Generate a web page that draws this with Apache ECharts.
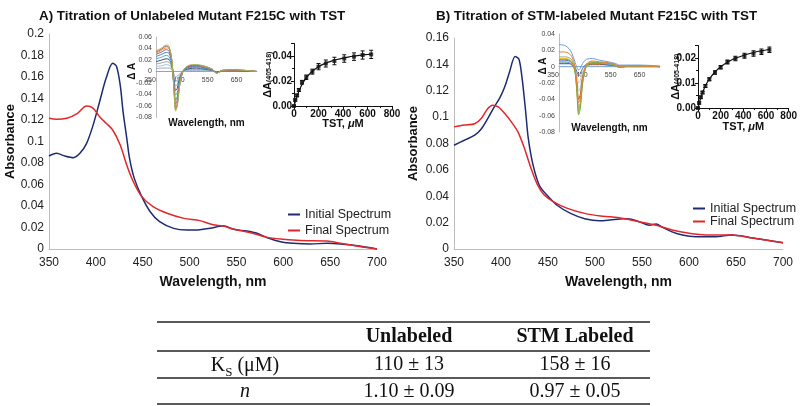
<!DOCTYPE html>
<html><head><meta charset="utf-8">
<script src="https://cdn.jsdelivr.net/npm/echarts@6/dist/echarts.min.js"></script>
<style>html,body{margin:0;padding:0;background:#fff}#c{width:800px;height:406px}</style>
</head><body><div id="c"></div>
<script>
// ---------------- DATA ----------------
const titleA = 'A) Titration of Unlabeled Mutant F215C with TST';
const titleB = 'B) Titration of STM-labeled Mutant F215C with TST';
const spectrumNames = ['Initial Spectrum', 'Final Spectrum'];
const absName = 'Absorbance';
const wlName = 'Wavelength, nm';

const aInitWl = [350, 358, 367, 376, 383, 390, 397, 404, 411, 418, 422, 426, 429, 433, 436, 441, 449, 458, 468, 483, 497, 511, 522, 536, 547, 561, 572, 583, 597, 611, 629, 647, 661, 679, 700];
const aInitAbs = [0.0865, 0.089, 0.0865, 0.085, 0.089, 0.098, 0.115, 0.137, 0.159, 0.1727, 0.170, 0.1525, 0.128, 0.103, 0.084, 0.0657, 0.0487, 0.0347, 0.0254, 0.0192, 0.0177, 0.0180, 0.0192, 0.0217, 0.0183, 0.0167, 0.0146, 0.0105, 0.0068, 0.0053, 0.0047, 0.0053, 0.0047, 0.003, 0.000];
const aFinalWl = [350, 358, 369, 380, 390, 397, 404, 411, 418, 426, 433, 440, 449, 461, 476, 494, 511, 525, 536, 547, 565, 583, 600, 618, 647, 661, 683, 700];
const aFinalAbs = [0.1216, 0.1206, 0.1216, 0.126, 0.133, 0.131, 0.123, 0.117, 0.1107, 0.0967, 0.078, 0.0626, 0.0487, 0.0394, 0.0332, 0.0285, 0.0264, 0.0225, 0.0214, 0.0183, 0.0152, 0.0108, 0.009, 0.0078, 0.0074, 0.0053, 0.0022, 0.000];

const bInitWl = [350, 361, 372, 379, 386, 393, 399, 404, 409, 415, 419, 422, 426, 429, 434, 441, 450, 460, 474, 489, 505, 516, 530, 537, 547, 558, 565, 572, 582, 593, 607, 628, 646, 664, 682, 700];
const bInitAbs = [0.0787, 0.0825, 0.0863, 0.091, 0.099, 0.108, 0.115, 0.123, 0.134, 0.146, 0.144, 0.132, 0.106, 0.084, 0.064, 0.048, 0.040, 0.033, 0.027, 0.023, 0.0214, 0.022, 0.023, 0.0227, 0.0207, 0.018, 0.019, 0.0164, 0.013, 0.0106, 0.0093, 0.0093, 0.0106, 0.0088, 0.0068, 0.0048];
const bFinalWl = [350, 361, 372, 379, 386, 391, 397, 404, 411, 418, 425, 432, 439, 446, 456, 470, 489, 506, 516, 530, 547, 565, 582, 600, 618, 646, 664, 700];
const bFinalAbs = [0.0926, 0.094, 0.095, 0.099, 0.1065, 0.109, 0.1077, 0.1027, 0.0964, 0.0888, 0.0762, 0.061, 0.0484, 0.041, 0.0358, 0.031, 0.027, 0.025, 0.0245, 0.0232, 0.0207, 0.018, 0.0144, 0.0119, 0.0106, 0.0106, 0.0088, 0.0048];

// difference-spectra insets
const diffWl = [350, 370, 385, 395, 405, 412, 418, 424, 432, 445, 465, 490, 520, 545, 560, 580, 620, 700];
const diffA = [
  [0, 0, 0, 0, 0, 0, 0, 0, 0, 0, 0, 0, 0, 0, 0, 0, 0, 0],
  [0.005, 0.006, 0.006, 0.006, 0.003, -0.004, -0.010, -0.008, -0.004, 0.000, 0.002, 0.002, 0.001, 0.001, 0.000, 0.000, 0.000, 0.000],
  [0.009, 0.010, 0.012, 0.011, 0.005, -0.008, -0.017, -0.015, -0.006, 0.000, 0.003, 0.003, 0.002, 0.001, -0.001, 0.000, 0.001, 0.000],
  [0.013, 0.015, 0.017, 0.016, 0.007, -0.011, -0.025, -0.022, -0.009, 0.001, 0.004, 0.004, 0.003, 0.001, -0.001, 0.001, 0.001, 0.000],
  [0.017, 0.020, 0.022, 0.021, 0.010, -0.014, -0.033, -0.029, -0.012, 0.001, 0.005, 0.006, 0.004, 0.002, -0.001, 0.001, 0.001, 0.000],
  [0.022, 0.025, 0.028, 0.026, 0.012, -0.018, -0.041, -0.036, -0.015, 0.001, 0.007, 0.007, 0.005, 0.002, -0.002, 0.001, 0.002, 0.000],
  [0.026, 0.030, 0.033, 0.032, 0.014, -0.022, -0.050, -0.043, -0.018, 0.001, 0.008, 0.009, 0.006, 0.003, -0.002, 0.001, 0.002, 0.000],
  [0.030, 0.034, 0.038, 0.036, 0.016, -0.025, -0.057, -0.049, -0.021, 0.002, 0.009, 0.010, 0.007, 0.003, -0.002, 0.002, 0.002, 0.000],
  [0.032, 0.037, 0.041, 0.040, 0.018, -0.027, -0.062, -0.054, -0.023, 0.002, 0.010, 0.011, 0.008, 0.004, -0.003, 0.002, 0.003, 0.000],
  [0.034, 0.039, 0.044, 0.042, 0.019, -0.029, -0.066, -0.057, -0.024, 0.002, 0.010, 0.011, 0.009, 0.004, -0.003, 0.002, 0.003, 0.000],
  [0.036, 0.041, 0.046, 0.044, 0.020, -0.030, -0.069, -0.060, -0.025, 0.002, 0.011, 0.012, 0.009, 0.004, -0.003, 0.002, 0.003, 0.000]
];
const diffB = [
  [0, 0, 0, 0, 0, 0, 0, 0, 0, 0, 0, 0, 0, 0, 0, 0, 0, 0],
  [0.003, 0.003, 0.003, 0.002, -0.003, -0.016, -0.030, -0.025, -0.010, 0.000, 0.002, 0.002, 0.002, 0.001, 0.000, 0.000, 0.000, 0.000],
  [0.005, 0.005, 0.004, 0.003, -0.001, -0.010, -0.020, -0.017, -0.006, 0.001, 0.003, 0.003, 0.002, 0.001, 0.000, 0.000, 0.000, 0.000],
  [0.004, 0.004, 0.004, 0.002, -0.004, -0.021, -0.040, -0.034, -0.013, 0.001, 0.003, 0.003, 0.002, 0.001, -0.001, 0.000, 0.000, 0.000],
  [0.008, 0.008, 0.007, 0.005, 0.000, -0.006, -0.010, -0.008, -0.002, 0.003, 0.004, 0.004, 0.003, 0.002, 0.001, 0.001, 0.001, 0.000],
  [0.006, 0.006, 0.005, 0.003, -0.005, -0.028, -0.054, -0.046, -0.018, 0.001, 0.004, 0.004, 0.003, 0.001, -0.001, 0.000, 0.001, 0.000],
  [0.012, 0.012, 0.011, 0.008, -0.002, -0.026, -0.050, -0.043, -0.016, 0.002, 0.006, 0.005, 0.004, 0.002, -0.001, 0.001, 0.001, 0.000],
  [0.010, 0.010, 0.009, 0.006, -0.004, -0.030, -0.057, -0.049, -0.019, 0.001, 0.005, 0.005, 0.004, 0.002, -0.001, 0.001, 0.001, 0.000],
  [0.009, 0.009, 0.008, 0.005, -0.005, -0.031, -0.059, -0.051, -0.020, 0.001, 0.005, 0.005, 0.004, 0.002, -0.001, 0.001, 0.001, 0.000],
  [0.018, 0.018, 0.016, 0.012, 0.001, -0.022, -0.044, -0.038, -0.014, 0.003, 0.007, 0.006, 0.005, 0.003, 0.000, 0.001, 0.001, 0.000],
  [0.027, 0.026, 0.022, 0.016, 0.006, -0.001, -0.004, -0.002, 0.004, 0.009, 0.010, 0.008, 0.006, 0.004, 0.002, 0.002, 0.002, 0.001]
];
const diffAxisName = 'Δ A';

// titration insets
const tstConc = [0, 10, 25, 40, 65, 100, 150, 200, 260, 330, 410, 490, 560, 630];
const dAUnlabeled = [0, 0.0048, 0.0085, 0.0128, 0.0190, 0.0230, 0.0275, 0.0315, 0.0340, 0.0360, 0.0380, 0.0395, 0.0408, 0.0413];
const errUnlabeled = [0.0005, 0.0008, 0.001, 0.0012, 0.0015, 0.0018, 0.002, 0.0025, 0.0028, 0.003, 0.003, 0.003, 0.0033, 0.0033];
const dALabeled = [0, 0.0020, 0.0043, 0.0062, 0.0088, 0.0115, 0.0142, 0.0163, 0.0184, 0.0198, 0.0209, 0.0218, 0.0225, 0.0233];
const errLabeled = [0.0003, 0.0004, 0.0005, 0.0005, 0.0006, 0.0006, 0.0007, 0.0007, 0.0008, 0.0009, 0.001, 0.0011, 0.0011, 0.0011];
const fitConc = [0, 10, 25, 50, 75, 100, 150, 200, 250, 300, 350, 400, 450, 500, 550, 600, 630];
const fitUnlabeled = [0, 0.0032, 0.0078, 0.0141, 0.0189, 0.0226, 0.0278, 0.0314, 0.0339, 0.0357, 0.0372, 0.0383, 0.0393, 0.0400, 0.0407, 0.0412, 0.0415];
const fitLabeled = [0, 0.0019, 0.0042, 0.0073, 0.0097, 0.0116, 0.0144, 0.0165, 0.0180, 0.0193, 0.0202, 0.0210, 0.0217, 0.0223, 0.0228, 0.0232, 0.0235];
const titrYName = '{a|ΔA}{s|(405-418)}';
const titrXName = '{a|TST, }{i|μ}{a|M}';

// table
const tableHeaders = ['Unlabeled', 'STM Labeled'];
const tableRowLabels = ['{k|K}{s|S}{k| (μM)}', '{i|n}'];
const tableValues = [['110 ± 13', '158 ± 16'], ['1.10 ± 0.09', '0.97 ± 0.05']];

// ---------------- STYLE ----------------
const SANS = '"Liberation Sans", Arial, Helvetica, sans-serif';
const SERIF = '"Liberation Serif", "Times New Roman", serif';
const navy = '#1E2B70', red = '#E3262B';
const diffColorsA = ['#7BA7DB', '#B3A2C7', '#93CDDD', '#A5A5A5', '#2C4D75', '#4BACC6', '#4F81BD', '#8064A2', '#F79646', '#C0504D', '#9BBB59'];
const diffColorsB = ['#7BA7DB', '#B4C7E7', '#C9C9C9', '#9E480E', '#4472C4', '#5B9BD5', '#A5A5A5', '#FFC000', '#70AD47', '#ED7D31', '#6F9FD8'];

const pairs = (xs, ys) => xs.map((x, i) => [x, ys[i]]);

function mainX(gi, name) {
  return { gridIndex: gi, type: 'value', min: 350, max: 700, interval: 50,
    name: name, nameLocation: 'middle', nameGap: 26, nameMoveOverlap: false,
    nameTextStyle: { fontFamily: SANS, fontWeight: 'bold', fontSize: 14, color: '#111', verticalAlign: 'top' },
    axisLine: { onZero: false, lineStyle: { color: '#BDBDBD', width: 1 } }, axisTick: { show: false },
    axisLabel: { fontFamily: SANS, fontSize: 12, color: '#222', margin: 8 }, splitLine: { show: false } };
}
function mainY(gi, max, gap) {
  return { gridIndex: gi, type: 'value', min: 0, max: max, interval: 0.02,
    name: absName, nameLocation: 'middle', nameGap: gap, nameRotate: 90, nameMoveOverlap: false,
    nameTextStyle: { fontFamily: SANS, fontWeight: 'bold', fontSize: 13, color: '#111' },
    axisLine: { show: true, onZero: false, lineStyle: { color: '#BDBDBD', width: 1 } }, axisTick: { show: false },
    axisLabel: { fontFamily: SANS, fontSize: 12, color: '#222', margin: 5 }, splitLine: { show: false } };
}
function diffX(gi, offset, gap) {
  return { gridIndex: gi, type: 'value', min: 350, max: 700, interval: 100, position: 'bottom', offset: offset,
    name: wlName, nameLocation: 'middle', nameGap: gap, nameMoveOverlap: false,
    nameTextStyle: { fontFamily: SANS, fontWeight: 'bold', fontSize: 10, color: '#111', verticalAlign: 'top' },
    axisLine: { onZero: false, lineStyle: { color: '#BDBDBD' } }, axisTick: { show: false },
    axisLabel: { fontFamily: SANS, fontSize: 7, color: '#444', margin: 5, showMaxLabel: false, padding: [0, 12, 0, 0] },
    splitLine: { show: false } };
}
function diffY(gi, min, max, gap, pad) {
  return { gridIndex: gi, type: 'value', min: min, max: max, interval: 0.02,
    name: diffAxisName, nameLocation: 'middle', nameGap: gap, nameRotate: 90, nameMoveOverlap: false,
    nameTextStyle: { fontFamily: SANS, fontWeight: 'bold', fontSize: 10, color: '#111', padding: pad },
    axisLine: { show: true, onZero: false, lineStyle: { color: '#BDBDBD' } }, axisTick: { show: false },
    axisLabel: { fontFamily: SANS, fontSize: 7, color: '#444', margin: 4 }, splitLine: { show: false } };
}
function titrX(gi, gap) {
  return { gridIndex: gi, type: 'value', min: 0, max: 800, interval: 200,
    name: titrXName, nameLocation: 'middle', nameGap: gap, nameMoveOverlap: false,
    nameTextStyle: { verticalAlign: 'top', rich: {
      a: { fontFamily: SANS, fontWeight: 'bold', fontSize: 11, color: '#111' },
      i: { fontFamily: SANS, fontWeight: 'bold', fontStyle: 'italic', fontSize: 11, color: '#111' } } },
    axisLine: { onZero: false, lineStyle: { color: '#111', width: 1 } },
    axisTick: { show: true, length: 3, lineStyle: { color: '#111' } },
    minorTick: { show: true, splitNumber: 2, length: 2, lineStyle: { color: '#111' } },
    axisLabel: { fontFamily: SANS, fontWeight: 'bold', fontSize: 10, color: '#111', margin: 3 }, splitLine: { show: false } };
}
function titrY(gi, max, interval, gap) {
  return { gridIndex: gi, type: 'value', min: 0, max: max, interval: interval,
    name: titrYName, nameLocation: 'middle', nameGap: gap, nameRotate: 90, nameMoveOverlap: false,
    nameTextStyle: { rich: {
      a: { fontFamily: SANS, fontWeight: 'bold', fontSize: 11, color: '#111', lineHeight: 14, verticalAlign: 'bottom' },
      s: { fontFamily: SANS, fontWeight: 'bold', fontSize: 7, color: '#111', lineHeight: 14, verticalAlign: 'bottom', padding: [4, 0, 0, 0] } } },
    axisLine: { show: true, onZero: false, lineStyle: { color: '#111', width: 1 } },
    axisTick: { show: true, length: 3, lineStyle: { color: '#111' } },
    minorTick: { show: true, splitNumber: 2, length: 2, lineStyle: { color: '#111' } },
    axisLabel: { fontFamily: SANS, fontWeight: 'bold', fontSize: 10, color: '#111', margin: 2, showMaxLabel: false,
      formatter: v => v.toFixed(2) }, splitLine: { show: false } };
}
function lineSeries(name, xi, data, color, width, z) {
  return { name: name, type: 'line', xAxisIndex: xi, yAxisIndex: xi, data: data, showSymbol: false, symbol: 'none',
    smooth: 0.3, lineStyle: { color: color, width: width }, itemStyle: { color: color }, z: z || 2, silent: true };
}
function errorBars(xi, xs, ys, errs) {
  return { type: 'custom', xAxisIndex: xi, yAxisIndex: xi, silent: true, z: 4,
    data: xs.map((x, i) => [x, ys[i] - errs[i], ys[i] + errs[i]]),
    encode: { x: 0, y: [1, 2] },
    renderItem: function (params, api) {
      const x = api.value(0);
      const lo = api.coord([x, api.value(1)]);
      const hi = api.coord([x, api.value(2)]);
      const st = { stroke: '#111', lineWidth: 1, fill: null };
      return { type: 'group', children: [
        { type: 'line', shape: { x1: hi[0], y1: hi[1], x2: lo[0], y2: lo[1] }, style: st },
        { type: 'line', shape: { x1: hi[0] - 2, y1: hi[1], x2: hi[0] + 2, y2: hi[1] }, style: st },
        { type: 'line', shape: { x1: lo[0] - 2, y1: lo[1], x2: lo[0] + 2, y2: lo[1] }, style: st }
      ] };
    } };
}
function pointSeries(xi, xs, ys) {
  return { type: 'scatter', xAxisIndex: xi, yAxisIndex: xi, data: pairs(xs, ys), symbol: 'rect', symbolSize: 4,
    itemStyle: { color: '#111' }, z: 5, silent: true };
}

const series = [
  lineSeries(spectrumNames[0], 0, pairs(aInitWl, aInitAbs), navy, 1.5, 3),
  lineSeries(spectrumNames[1], 0, pairs(aFinalWl, aFinalAbs), red, 1.5, 3),
  lineSeries(spectrumNames[0], 1, pairs(bInitWl, bInitAbs), navy, 1.5, 3),
  lineSeries(spectrumNames[1], 1, pairs(bFinalWl, bFinalAbs), red, 1.5, 3)
];
diffA.forEach((arr, i) => series.push(lineSeries('dA' + i, 2, pairs(diffWl, arr), diffColorsA[i], 1, 2)));
diffB.forEach((arr, i) => series.push(lineSeries('dB' + i, 4, pairs(diffWl, arr), diffColorsB[i], 1, 2)));
series.push(lineSeries('fitA', 3, pairs(fitConc, fitUnlabeled), '#111', 1.2, 3));
series.push(errorBars(3, tstConc, dAUnlabeled, errUnlabeled));
series.push(pointSeries(3, tstConc, dAUnlabeled));
series.push(lineSeries('fitB', 5, pairs(fitConc, fitLabeled), '#111', 1.2, 3));
series.push(errorBars(5, tstConc, dALabeled, errLabeled));
series.push(pointSeries(5, tstConc, dALabeled));

// table graphics
const tLineStyle = { stroke: '#5A5A5A', lineWidth: 2 };
const tableLinesY = [322, 351, 378, 404];
const colX = [409, 575];
const rowY = [365, 392];
const graphic = [];
tableLinesY.forEach(y => graphic.push({ type: 'line', shape: { x1: 157, y1: y, x2: 650, y2: y }, style: tLineStyle, silent: true }));
tableHeaders.forEach((h, i) => graphic.push({ type: 'text', x: colX[i], y: 337, silent: true,
  style: { text: h, font: 'bold 20px ' + SERIF, fill: '#111', align: 'center', verticalAlign: 'middle' } }));
tableRowLabels.forEach((lab, r) => graphic.push({ type: 'text', x: 245, y: rowY[r], silent: true,
  style: { text: lab, align: 'center', verticalAlign: 'middle', fill: '#111', rich: {
    k: { fontFamily: SERIF, fontSize: 20, fill: '#111', verticalAlign: 'bottom', lineHeight: 22 },
    s: { fontFamily: SERIF, fontSize: 13, fill: '#111', verticalAlign: 'bottom', lineHeight: 22, padding: [0, 0, -3, 0] },
    i: { fontFamily: SERIF, fontSize: 20, fontStyle: 'italic', fill: '#111' } } } }));
tableValues.forEach((row, r) => row.forEach((v, c) => graphic.push({ type: 'text', x: colX[c], y: rowY[r], silent: true,
  style: { text: v, font: '20px ' + SERIF, fill: '#111', align: 'center', verticalAlign: 'middle' } })));

const option = {
  animation: false,
  backgroundColor: '#fff',
  title: [
    { text: titleA, left: 34, top: 5, textStyle: { fontFamily: SANS, fontWeight: 'bold', fontSize: 13.4, color: '#111' } },
    { text: titleB, left: 431, top: 5, textStyle: { fontFamily: SANS, fontWeight: 'bold', fontSize: 13.4, color: '#111' } }
  ],
  legend: [
    { data: spectrumNames, left: 283, top: 203, orient: 'vertical', icon: 'rect', itemWidth: 12, itemHeight: 2, itemGap: 3,
      textStyle: { fontFamily: SANS, fontSize: 12.5, color: '#222' }, selectedMode: false },
    { data: spectrumNames, left: 688, top: 197, orient: 'vertical', icon: 'rect', itemWidth: 12, itemHeight: 2, itemGap: 0,
      textStyle: { fontFamily: SANS, fontSize: 12.5, color: '#222' }, selectedMode: false }
  ],
  grid: [
    { left: 49, top: 34, width: 328, height: 215 },
    { left: 454, top: 38, width: 329, height: 211 },
    { left: 156, top: 37, width: 101, height: 80.5 },
    { left: 294, top: 43.5, width: 98, height: 62.5 },
    { left: 559, top: 34, width: 101, height: 98 },
    { left: 698, top: 45.5, width: 96, height: 62.5 }
  ],
  xAxis: [mainX(0, wlName), mainX(1, wlName), diffX(2, -46, 47), titrX(3, 12), diffX(4, -65.3, 57), titrX(5, 13)],
  yAxis: [mainY(0, 0.2, 32), mainY(1, 0.16, 34), diffY(2, -0.08, 0.06, 19, [0, 0, 0, 12]), titrY(3, 0.05, 0.02, 21),
          diffY(4, -0.08, 0.04, 11, [0, 0, 0, 34]), titrY(5, 0.025, 0.01, 17)],
  series: series,
  graphic: graphic
};
const chart = echarts.init(document.getElementById('c'), null, { renderer: 'canvas' });
chart.setOption(option);
</script></body></html>
